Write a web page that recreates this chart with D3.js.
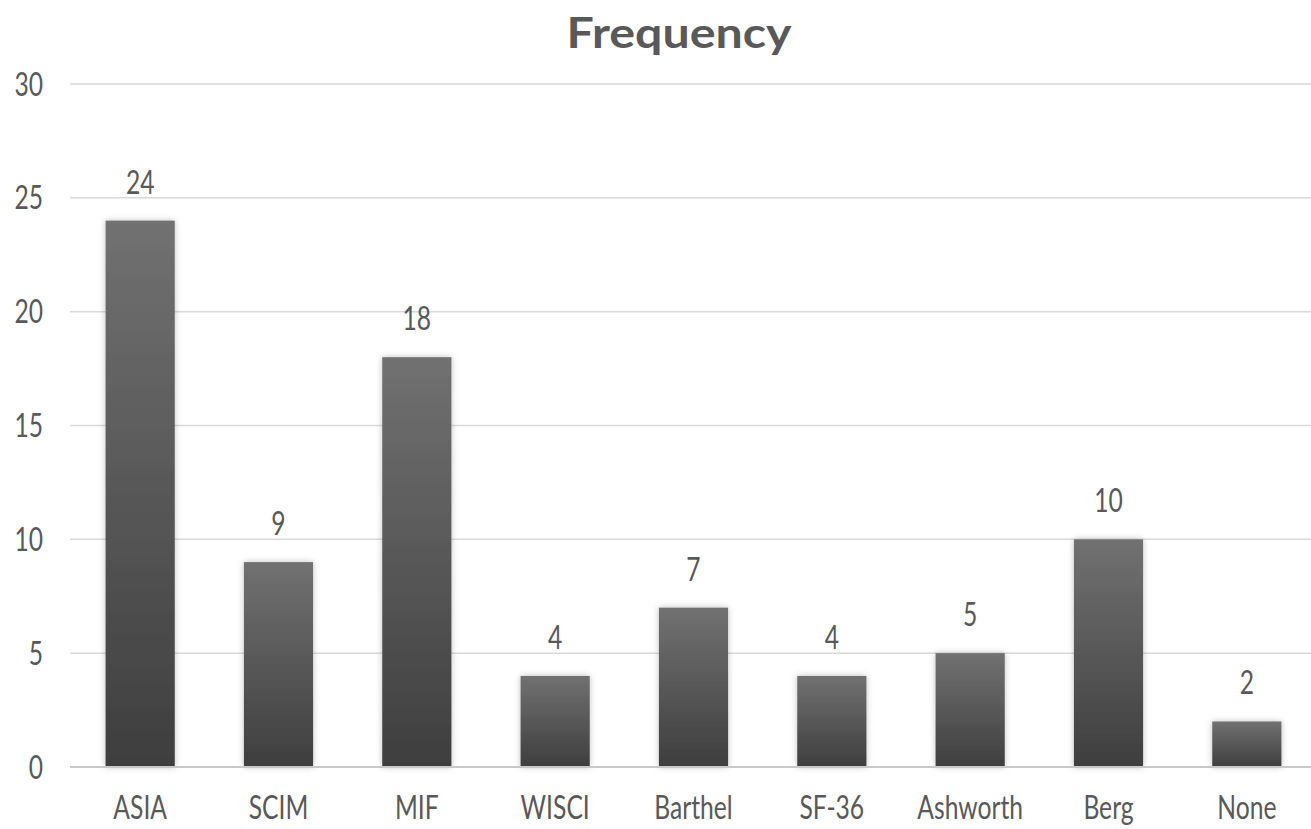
<!DOCTYPE html>
<html>
<head>
<meta charset="utf-8">
<script src="https://cdn.jsdelivr.net/npm/d3@7"></script>
<style>
  body { margin: 0; background: #fff; }
  svg text { font-family: Lato, "Open Sans", sans-serif; fill: #595959; }
</style>
</head>
<body>
<svg id="chart"></svg>
<script>
// Data
const categories = ["ASIA", "SCIM", "MIF", "WISCI", "Barthel", "SF-36", "Ashworth", "Berg", "None"];
const values = [24, 9, 18, 4, 7, 4, 5, 10, 2];
const yTicks = [0, 5, 10, 15, 20, 25, 30];

const width = 1311, height = 829;
const svg = d3.select("#chart").attr("width", width).attr("height", height);

// the source font is a narrow one, so squeeze text horizontally
const sx = 0.77;
const labelSize = 32;

const x = d3.scaleBand()
    .domain(categories)
    .range([71, 1316])
    .paddingInner(0.5)
    .paddingOuter(0.25);

const y = d3.scaleLinear().domain([0, 30]).range([767, 84]);

// gradient + shadow for bars
const defs = svg.append("defs");
const grad = defs.append("linearGradient")
    .attr("id", "barGrad")
    .attr("x1", 0).attr("y1", 0).attr("x2", 0).attr("y2", 1);
grad.append("stop").attr("offset", "0%").attr("stop-color", "#717171");
grad.append("stop").attr("offset", "100%").attr("stop-color", "#3e3e3e");

const shadow = defs.append("filter").attr("id", "shadow")
    .attr("x", "-20%").attr("y", "-20%").attr("width", "140%").attr("height", "140%");
shadow.append("feDropShadow")
    .attr("dx", 0).attr("dy", 0).attr("stdDeviation", 3)
    .attr("flood-color", "#000").attr("flood-opacity", 0.25);

// gridlines
svg.append("g")
    .selectAll("line")
    .data(yTicks.filter(d => d > 0))
    .join("line")
    .attr("x1", 70).attr("x2", width)
    .attr("y1", d => y(d)).attr("y2", d => y(d))
    .attr("stroke", "#d9d9d9")
    .attr("stroke-width", 1.5);

// y axis labels
svg.append("g")
    .selectAll("text")
    .data(yTicks)
    .join("text")
    .attr("transform", d => `translate(43,${y(d)}) scale(${sx},1)`)
    .attr("dy", "0.36em")
    .attr("text-anchor", "end")
    .attr("font-size", labelSize)
    .text(d => d);

// bars
svg.append("g")
    .selectAll("rect")
    .data(values)
    .join("rect")
    .attr("x", (d, i) => x(categories[i]))
    .attr("width", x.bandwidth())
    .attr("y", d => y(d))
    .attr("height", d => y(0) - y(d))
    .attr("fill", "url(#barGrad)")
    .attr("filter", "url(#shadow)");

// baseline
svg.append("line")
    .attr("x1", 70).attr("x2", width)
    .attr("y1", y(0)).attr("y2", y(0))
    .attr("stroke", "#c8c8c8")
    .attr("stroke-width", 2);

// value labels
svg.append("g")
    .selectAll("text")
    .data(values)
    .join("text")
    .attr("transform", (d, i) =>
        `translate(${x(categories[i]) + x.bandwidth() / 2},${y(d) - 27}) scale(${sx},1)`)
    .attr("text-anchor", "middle")
    .attr("font-size", labelSize)
    .text(d => d);

// category labels
svg.append("g")
    .selectAll("text")
    .data(categories)
    .join("text")
    .attr("transform", d => `translate(${x(d) + x.bandwidth() / 2},819) scale(${sx},1)`)
    .attr("text-anchor", "middle")
    .attr("font-size", labelSize)
    .text(d => d);

// title
svg.append("text")
    .attr("transform", "translate(679,48) scale(1.15,1)")
    .attr("text-anchor", "middle")
    .attr("font-size", 42)
    .attr("font-weight", "bold")
    .text("Frequency");
</script>
</body>
</html>
